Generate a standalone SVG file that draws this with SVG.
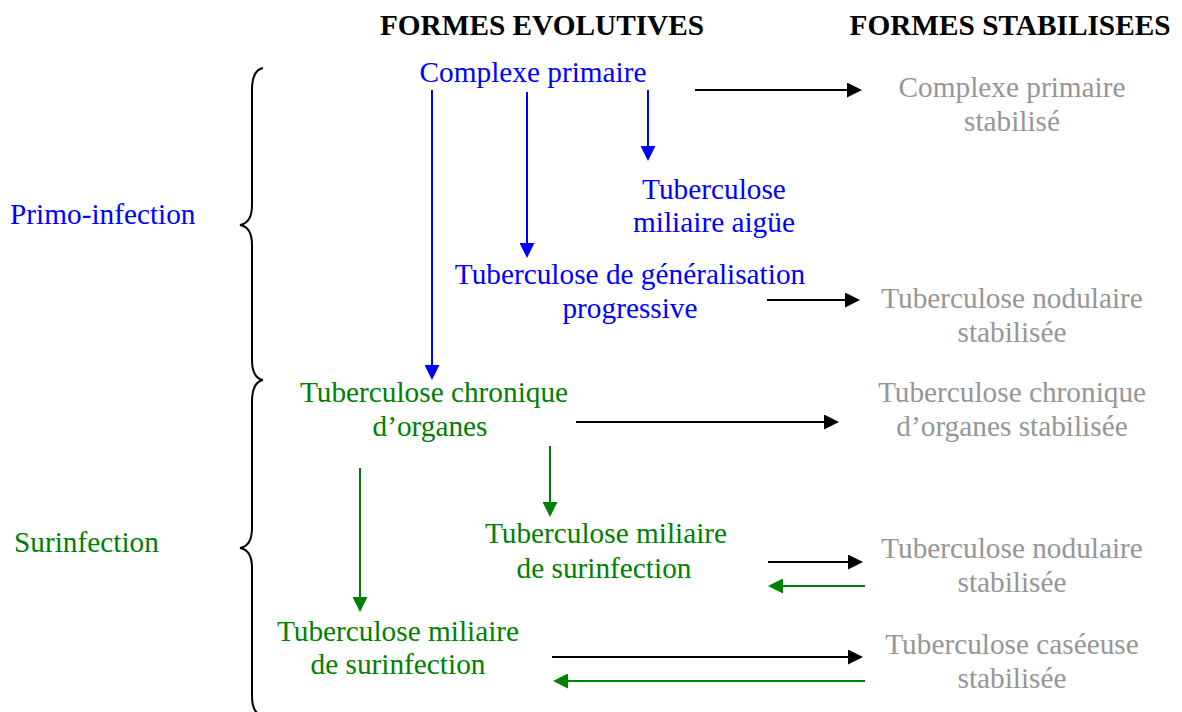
<svg xmlns="http://www.w3.org/2000/svg" width="1182" height="712" viewBox="0 0 1182 712">
<style>
text{font-family:"Liberation Serif","Times New Roman",serif;font-size:29.3px}
.h{font-weight:bold;fill:#000}
.b{fill:#0000FF}
.g{fill:#008000}
.s{fill:#969696}
.m{text-anchor:middle}
.brace{fill:none;stroke:#000;stroke-width:2}
.lb{stroke:#0000FF;stroke-width:2}
.lk{stroke:#000;stroke-width:2}
.lg{stroke:#008000;stroke-width:2}
</style>
<defs>
<marker id="ab" markerUnits="userSpaceOnUse" markerWidth="15" markerHeight="15" refX="0" refY="7.5" orient="auto"><path d="M0,0 L15,7.5 L0,15 z" fill="#0000FF"/></marker>
<marker id="ak" markerUnits="userSpaceOnUse" markerWidth="15" markerHeight="15" refX="0" refY="7.5" orient="auto"><path d="M0,0 L15,7.5 L0,15 z" fill="#000"/></marker>
<marker id="ag" markerUnits="userSpaceOnUse" markerWidth="15" markerHeight="15" refX="0" refY="7.5" orient="auto"><path d="M0,0 L15,7.5 L0,15 z" fill="#008000"/></marker>
</defs>
<rect width="1182" height="712" fill="#fff"/>
<g id="headers">
<text class="h m" x="542" y="35">FORMES EVOLUTIVES</text>
<text class="h m" x="1010" y="35">FORMES STABILISEES</text>
</g>
<g id="braces">
<path class="brace" d="M263,68 Q252,70 252,90 L252,205 Q252,223 240,225 Q252,227 252,245 L252,360 Q252,378 263,380"/>
<path class="brace" d="M263,380 Q252,382 252,402 L252,528 Q252,546 240,548 Q252,550 252,568 L252,696 Q252,714 263,716"/>
</g>
<g id="primo"><text class="b" x="10" y="224">Primo-infection</text></g>
<g id="surinf"><text class="g" x="14" y="552">Surinfection</text></g>
<g id="complexe"><text class="b m" x="533" y="82">Complexe primaire</text></g>
<g id="miliaire-aigue"><text class="b m" x="714" y="199">Tuberculose</text><text class="b m" x="714" y="232">miliaire aigüe</text></g>
<g id="generalisation"><text class="b m" x="630" y="284">Tuberculose de généralisation</text><text class="b m" x="630" y="318">progressive</text></g>
<g id="chronique"><text class="g m" x="434" y="402">Tuberculose chronique</text><text class="g m" x="430" y="436">d’organes</text></g>
<g id="miliaire-surinf1"><text class="g m" x="606" y="543">Tuberculose miliaire</text><text class="g m" x="604" y="578">de surinfection</text></g>
<g id="miliaire-surinf2"><text class="g m" x="398" y="641">Tuberculose miliaire</text><text class="g m" x="398" y="674">de surinfection</text></g>
<g id="stab-complexe"><text class="s m" x="1012" y="97">Complexe primaire</text><text class="s m" x="1012" y="131">stabilisé</text></g>
<g id="stab-nodulaire1"><text class="s m" x="1012" y="308">Tuberculose nodulaire</text><text class="s m" x="1012" y="342">stabilisée</text></g>
<g id="stab-chronique"><text class="s m" x="1012" y="402">Tuberculose chronique</text><text class="s m" x="1012" y="436">d’organes stabilisée</text></g>
<g id="stab-nodulaire2"><text class="s m" x="1012" y="558">Tuberculose nodulaire</text><text class="s m" x="1012" y="592">stabilisée</text></g>
<g id="stab-caseeuse"><text class="s m" x="1012" y="654">Tuberculose caséeuse</text><text class="s m" x="1012" y="688">stabilisée</text></g>
<g id="connectors">
<line class="lb" x1="432" y1="90" x2="432" y2="365" marker-end="url(#ab)"/>
<line class="lb" x1="527" y1="92" x2="527" y2="243" marker-end="url(#ab)"/>
<line class="lb" x1="648" y1="90" x2="648" y2="146" marker-end="url(#ab)"/>
<line class="lk" x1="695" y1="90" x2="847" y2="90" marker-end="url(#ak)"/>
<line class="lk" x1="767" y1="300" x2="845" y2="300" marker-end="url(#ak)"/>
<line class="lk" x1="576" y1="422" x2="824" y2="422" marker-end="url(#ak)"/>
<line class="lk" x1="768" y1="562" x2="848" y2="562" marker-end="url(#ak)"/>
<line class="lk" x1="552" y1="657" x2="848" y2="657" marker-end="url(#ak)"/>
<line class="lg" x1="550" y1="446" x2="550" y2="502" marker-end="url(#ag)"/>
<line class="lg" x1="360" y1="468" x2="360" y2="597" marker-end="url(#ag)"/>
<line class="lg" x1="865" y1="586" x2="783" y2="586" marker-end="url(#ag)"/>
<line class="lg" x1="865" y1="681" x2="568" y2="681" marker-end="url(#ag)"/>
</g>
</svg>
